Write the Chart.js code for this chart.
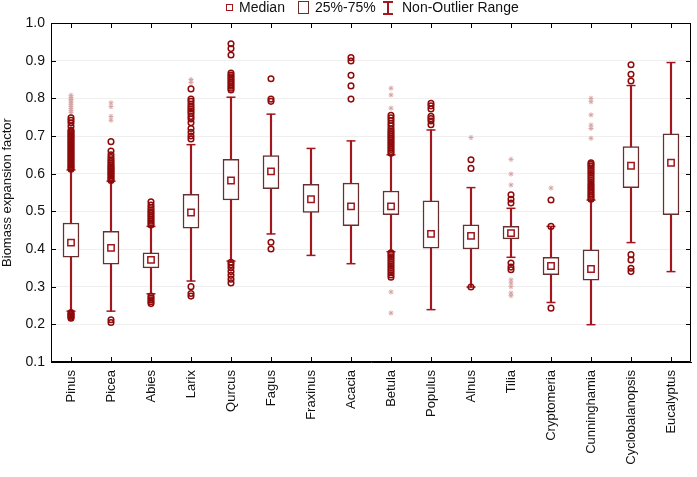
<!DOCTYPE html>
<html>
<head>
<meta charset="utf-8">
<title>Biomass expansion factor</title>
<script src="https://cdn.jsdelivr.net/npm/chart.js@4.4.0/dist/chart.umd.min.js"></script>
<style>
  html, body { margin: 0; padding: 0; background: #fff; }
  #wrap { position: relative; width: 697px; height: 477px; }
  #legend { position: absolute; left: 0; top: 0; width: 697px; height: 20px;
            font-family: "Liberation Sans", Arial, sans-serif; font-size: 14px; color: #111; }
  #legend span { position: absolute; }
  .txt { top: 0px; line-height: 15px; white-space: nowrap; }
  .med { left: 226px; top: 4px; width: 5px; height: 5px; border: 1.5px solid #a3161e; }
  .box { left: 298px; top: 1px; width: 9px; height: 11px; border: 1.5px solid #6b2e2e; }
  .whv { left: 387px; top: 1px; width: 1.5px; height: 13px; background: #a3161e; }
  .whc { left: 383px; width: 10px; height: 1.5px; background: #a3161e; }
</style>
</head>
<body>
<div id="wrap">
  <canvas id="chart" width="697" height="477"></canvas>
  <div id="legend">
    <span class="med"></span><span class="txt" style="left:239px">Median</span>
    <span class="box"></span><span class="txt" style="left:315px">25%-75%</span>
    <span class="whv"></span><span class="whc" style="top:1px"></span><span class="whc" style="top:13px"></span>
    <span class="txt" style="left:402px">Non-Outlier Range</span>
  </div>
</div>
<script>
// categories and box statistics
const categories = ['Pinus', 'Picea', 'Abies', 'Larix', 'Qurcus', 'Fagus', 'Fraxinus', 'Acacia',
    'Betula', 'Populus', 'Alnus', 'Tilia', 'Cryptomeria', 'Cunninghamia', 'Cyclobalanopsis', 'Eucalyptus'];
const q1 = [0.378, 0.360, 0.350, 0.455, 0.530, 0.560, 0.497, 0.462, 0.491, 0.402, 0.400, 0.427, 0.332, 0.317, 0.563, 0.491];
const q3 = [0.469, 0.447, 0.390, 0.545, 0.638, 0.648, 0.572, 0.575, 0.554, 0.528, 0.464, 0.460, 0.378, 0.398, 0.672, 0.706];
const medians = [0.417, 0.403, 0.371, 0.497, 0.582, 0.606, 0.532, 0.513, 0.513, 0.440, 0.435, 0.442, 0.355, 0.347, 0.621, 0.629];
const whiskerLow = [0.235, 0.235, 0.281, 0.315, 0.368, 0.440, 0.383, 0.361, 0.393, 0.239, 0.299, 0.378, 0.258, 0.199, 0.417, 0.340];
const whiskerHigh = [0.610, 0.580, 0.460, 0.677, 0.803, 0.758, 0.667, 0.687, 0.650, 0.716, 0.563, 0.508, 0.460, 0.530, 0.834, 0.895];

// outliers (circles), one list per category
const outliers = [
    [0.612, 0.616, 0.620, 0.624, 0.628, 0.632, 0.636, 0.640, 0.644, 0.648, 0.652, 0.656, 0.660, 0.664, 0.668, 0.672,
     0.676, 0.680, 0.684, 0.688, 0.692, 0.696, 0.700, 0.704, 0.708, 0.712, 0.716, 0.726, 0.735, 0.742, 0.748,
     0.216, 0.219, 0.222, 0.225, 0.228, 0.231],
    [0.582, 0.586, 0.590, 0.594, 0.598, 0.602, 0.606, 0.610, 0.614, 0.618, 0.622, 0.627, 0.632, 0.637, 0.643, 0.650,
     0.660, 0.685, 0.205, 0.212],
    [0.464, 0.469, 0.474, 0.479, 0.484, 0.489, 0.494, 0.499, 0.504, 0.510, 0.517, 0.525, 0.275, 0.270, 0.265, 0.260, 0.255],
    [0.692, 0.700, 0.710, 0.720, 0.735, 0.745, 0.752, 0.760, 0.766, 0.772, 0.778, 0.785, 0.792, 0.798, 0.825,
     0.275, 0.282, 0.300],
    [0.822, 0.827, 0.832, 0.837, 0.842, 0.847, 0.852, 0.857, 0.862, 0.867, 0.915, 0.932, 0.945,
     0.310, 0.320, 0.330, 0.340, 0.350, 0.358, 0.365],
    [0.400, 0.418, 0.792, 0.798, 0.852],
    [],
    [0.798, 0.833, 0.861, 0.899, 0.908],
    [0.654, 0.659, 0.664, 0.669, 0.674, 0.679, 0.684, 0.689, 0.694, 0.699, 0.704, 0.709, 0.714, 0.720, 0.727, 0.734,
     0.741, 0.748, 0.755, 0.325, 0.331, 0.337, 0.343, 0.349, 0.355, 0.361, 0.367, 0.373, 0.379, 0.385, 0.390],
    [0.730, 0.740, 0.746, 0.752, 0.772, 0.780, 0.787],
    [0.299, 0.614, 0.637],
    [0.522, 0.532, 0.544, 0.345, 0.352, 0.363],
    [0.243, 0.460, 0.530],
    [0.532, 0.537, 0.542, 0.547, 0.552, 0.557, 0.562, 0.567, 0.572, 0.578, 0.584, 0.590, 0.596, 0.602, 0.608,
     0.614, 0.620, 0.625, 0.629],
    [0.889, 0.864, 0.846, 0.385, 0.371, 0.349, 0.340],
    []
];

// extremes (stars), one list per category
const extremes = [
    [0.762, 0.768, 0.773, 0.778, 0.783, 0.788, 0.793, 0.797, 0.802, 0.808],
    [0.742, 0.752, 0.778, 0.788],
    [],
    [0.842, 0.850],
    [], [], [], [],
    [0.774, 0.809, 0.827, 0.286, 0.230],
    [],
    [0.696],
    [0.570, 0.599, 0.638, 0.318, 0.310, 0.300, 0.283, 0.276],
    [0.562],
    [0.694, 0.720, 0.729, 0.756, 0.791, 0.800],
    [], []
];

const yTicks = [0.1, 0.2, 0.3, 0.4, 0.5, 0.6, 0.7, 0.8, 0.9, 1.0];

const RED = '#a3161e';
const BOX = '#6b2e2e';
const OUT = '#8e0a0a';
const STAR = '#d7a3a3';
const FONT = '"Liberation Sans", Arial, sans-serif';

function points(lists) {
    const pts = [];
    lists.forEach((vals, i) => vals.forEach(v => pts.push({ x: categories[i], y: v })));
    return pts;
}

const caps = [];
categories.forEach((c, i) => {
    caps.push({ x: c, y: whiskerLow[i] });
    caps.push({ x: c, y: whiskerHigh[i] });
});

// frame with inward ticks on all four sides
const framePlugin = {
    id: 'frame',
    afterDatasetsDraw(chart) {
        const { ctx, chartArea: a, scales } = chart;
        ctx.save();
        ctx.strokeStyle = '#000';
        ctx.lineWidth = 1;
        ctx.beginPath();
        ctx.rect(a.left + 0.5, a.top + 0.5, a.right - a.left - 1, a.bottom - a.top - 1);
        categories.forEach((c, i) => {
            const x = Math.round(scales.x.getPixelForValue(i)) + 0.5;
            ctx.moveTo(x, a.top); ctx.lineTo(x, a.top + 5);
            ctx.moveTo(x, a.bottom); ctx.lineTo(x, a.bottom - 5);
        });
        yTicks.forEach(v => {
            const y = Math.round(scales.y.getPixelForValue(v)) + 0.5;
            ctx.moveTo(a.left, y); ctx.lineTo(a.left + 5, y);
            ctx.moveTo(a.right, y); ctx.lineTo(a.right - 5, y);
        });
        ctx.stroke();
        ctx.restore();
    }
};

new Chart(document.getElementById('chart'), {
    data: {
        labels: categories,
        datasets: [
            {
                type: 'bar', label: 'range', order: 6,
                data: categories.map((c, i) => [whiskerLow[i], whiskerHigh[i]]),
                backgroundColor: RED, borderWidth: 0, barThickness: 1.5, grouped: false
            },
            {
                type: 'bar', label: '25%-75%', order: 5,
                data: categories.map((c, i) => [q1[i], q3[i]]),
                backgroundColor: '#fff', borderColor: BOX, borderWidth: 1.5, borderSkipped: false,
                barThickness: 16, grouped: false
            },
            {
                type: 'line', label: 'caps', order: 4, showLine: false, data: caps,
                pointStyle: 'line', pointRadius: 4.5, borderColor: RED, pointBorderWidth: 1.5
            },
            {
                type: 'line', label: 'extremes', order: 3, showLine: false, data: points(extremes),
                pointStyle: 'star', pointRadius: 2.5, borderColor: STAR, pointBorderWidth: 1
            },
            {
                type: 'line', label: 'outliers', order: 2, showLine: false, data: points(outliers),
                pointStyle: 'circle', pointRadius: 2.8, borderColor: OUT, backgroundColor: 'rgba(0,0,0,0)',
                pointBorderWidth: 1.5
            },
            {
                type: 'line', label: 'Median', order: 1, showLine: false, data: medians,
                pointStyle: 'rect', pointRadius: 4.5, borderColor: RED, backgroundColor: '#fff',
                pointBorderWidth: 1.5
            }
        ]
    },
    options: {
        responsive: false,
        animation: false,
        layout: { padding: { top: 23, right: 2, left: 0, bottom: 0 } },
        plugins: { legend: { display: false }, tooltip: { enabled: false } },
        scales: {
            x: {
                type: 'category', offset: true,
                grid: { display: false },
                border: { color: '#000' },
                ticks: {
                    autoSkip: false, minRotation: 90, maxRotation: 90, padding: 0,
                    color: '#111', font: { family: FONT, size: 13 }
                },
                afterFit(s) { s.height = 115; }
            },
            y: {
                min: 0.1, max: 1.0,
                grid: { color: '#efefef', drawTicks: false },
                border: { color: '#000' },
                ticks: {
                    stepSize: 0.1, padding: 6, color: '#111',
                    font: { family: FONT, size: 14 },
                    callback: v => v.toFixed(1)
                },
                title: {
                    display: true, text: 'Biomass expansion factor', color: '#111', padding: { top: 0, bottom: 0 },
                    font: { family: FONT, size: 13 }
                },
                afterFit(s) { s.width = 51; }
            }
        }
    },
    plugins: [framePlugin]
});
</script>
</body>
</html>
